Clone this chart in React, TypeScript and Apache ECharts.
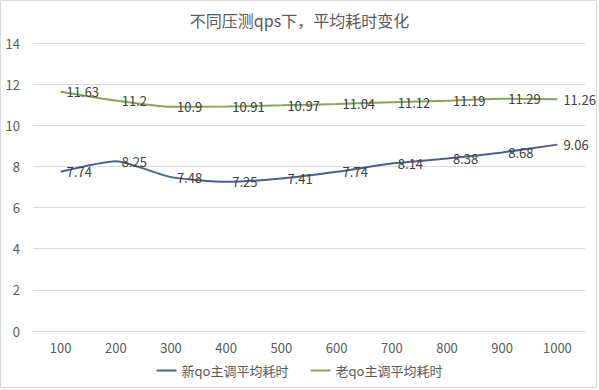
import React, { useEffect, useRef } from "react";
import * as echarts from "echarts";

const categories = ["100", "200", "300", "400", "500", "600", "700", "800", "900", "1000"];
const newQo = [7.74, 8.25, 7.48, 7.25, 7.41, 7.74, 8.14, 8.38, 8.68, 9.06];
const oldQo = [11.63, 11.2, 10.9, 10.91, 10.97, 11.04, 11.12, 11.19, 11.29, 11.26];
const seriesNames = ["新qo主调平均耗时", "老qo主调平均耗时"];
const titleText = "不同压测qps下，平均耗时变化";

const FONT = "'Noto Sans CJK SC', 'Noto Sans', sans-serif";

export default function App() {
  const ref = useRef<HTMLDivElement>(null);
  useEffect(() => {
    if (!ref.current) return;
    const chart = echarts.init(ref.current, null, { renderer: "svg" });
    const label = {
      show: true,
      position: "right" as const,
      distance: 6,
      color: "#404040",
      fontSize: 13,
      fontFamily: FONT,
    };
    chart.setOption({
      animation: false,
      backgroundColor: "#ffffff",
      textStyle: { fontFamily: FONT },
      title: {
        text: titleText,
        left: "center",
        top: 7,
        textStyle: { fontSize: 16, fontWeight: "normal", color: "#595959", fontFamily: FONT },
      },
      graphic: [
        {
          type: "rect",
          shape: { x: 0.5, y: 0.5, width: 596, height: 387 },
          style: { fill: "none", stroke: "#d9d9d9", lineWidth: 1 },
          silent: true,
        },
      ],
      legend: {
        bottom: 8,
        left: "center",
        itemGap: 22,
        itemWidth: 20,
        itemHeight: 2,
        icon: "rect",
        textStyle: { fontSize: 13, color: "#595959", fontFamily: FONT },
        data: seriesNames,
      },
      grid: { left: 33, right: 14, top: 43, bottom: 59, containLabel: false },
      xAxis: {
        type: "category",
        data: categories,
        boundaryGap: true,
        axisLine: { show: true, lineStyle: { color: "#d9d9d9" } },
        axisTick: { show: false },
        axisLabel: { color: "#595959", fontSize: 13, margin: 10, fontFamily: FONT },
      },
      yAxis: {
        type: "value",
        min: 0,
        max: 14,
        interval: 2,
        axisLine: { show: false },
        axisTick: { show: false },
        axisLabel: { color: "#595959", fontSize: 13, margin: 13, fontFamily: FONT },
        splitLine: { lineStyle: { color: "#d9d9d9" } },
      },
      series: [
        {
          name: seriesNames[0],
          type: "line",
          data: newQo,
          smooth: 0.2,
          showSymbol: true,
          symbol: "circle",
          symbolSize: 0,
          lineStyle: { color: "#4d6188", width: 2 },
          itemStyle: { color: "#4d6188" },
          label,
        },
        {
          name: seriesNames[1],
          type: "line",
          data: oldQo,
          smooth: 0.2,
          showSymbol: true,
          symbol: "circle",
          symbolSize: 0,
          lineStyle: { color: "#8aa55a", width: 2 },
          itemStyle: { color: "#8aa55a" },
          label,
        },
      ],
    });
    return () => chart.dispose();
  }, []);
  return (
    <div
      ref={ref}
      style={{ position: "fixed", left: 0, top: 0, width: 599, height: 390 }}
    />
  );
}
